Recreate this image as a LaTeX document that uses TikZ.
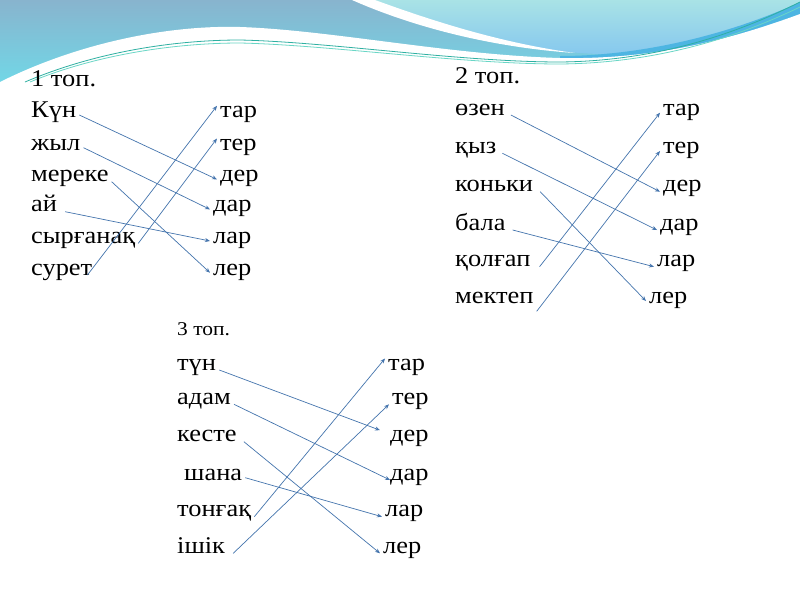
\documentclass[tikz,border=0pt]{standalone}
\usepackage{fontspec}
\setmainfont[FakeStretch=1.1]{Liberation Serif}
\usetikzlibrary{arrows.meta}
\definecolor{linkblue}{HTML}{4474AD}
\definecolor{skytop}{HTML}{88B4CE}
\definecolor{skylow}{HTML}{6EDCEA}
\definecolor{lenstop}{HTML}{A9E3E6}
\definecolor{lenslow}{HTML}{86C8EE}
\definecolor{bandblue}{HTML}{4DB5E2}
\definecolor{tealA}{HTML}{2FB0A2}
\definecolor{tealB}{HTML}{6AD6C6}

\begin{document}
\begin{tikzpicture}[
  x=1pt, y=-1pt,
  word/.style={anchor=base west, inner xsep=3pt, inner ysep=0pt, font=\fontsize{24}{28}\selectfont},
  small/.style={word, font=\fontsize{19.5}{23}\selectfont},
  link/.style={draw=linkblue, line width=0.7pt, -{Stealth[length=5pt, width=4pt]}}
]
\useasboundingbox (0,0) rectangle (800,600);

% header waves
\shade[top color=skytop, bottom color=skylow] (0,0) rectangle (800,95);
\shade[top color=lenstop, bottom color=lenslow] (360,0) .. controls (430,25) and (520,52) .. (600,54) .. controls (680,52) and (750,25) .. (800,4) -- (800,0) -- cycle;
\fill[white] (352,0) .. controls (420,30) and (500,48) .. (575,53) .. controls (500,43) and (430,20) .. (375,0) -- cycle;
\fill[bandblue] (560,56) .. controls (650,56) and (740,30) .. (800,2) -- (800,20) .. controls (740,46) and (660,62) .. (560,59) -- cycle;
\fill[white] (0,82) .. controls (80,42) and (170,25) .. (240,27) .. controls (330,30) and (450,55) .. (560,58) .. controls (660,60) and (740,36) .. (800,14) -- (800,600) -- (0,600) -- cycle;
\draw[tealA, line width=0.8pt] (25,82) .. controls (100,50) and (180,40) .. (240,40) .. controls (330,42) and (460,62) .. (560,62) .. controls (660,61) and (740,32) .. (800,2);
\draw[tealB, line width=0.8pt] (30,82) .. controls (100,53) and (180,43) .. (240,43) .. controls (330,45) and (460,64) .. (560,64) .. controls (660,63) and (740,36) .. (800,7);

% 1 топ
\node[word] (headA) at (28,86.7) {1 топ.};
\node[word] (kun) at (28,117.3) {Күн};
\node[word] (zhyl) at (28,150) {жыл};
\node[word] (mereke) at (28,181.7) {мереке};
\node[word] (ai) at (28,211.7) {ай};
\node[word] (syrganaq) at (28,243.3) {сырғанақ};
\node[word] (suret) at (28,275) {сурет};
\node[word] (tarA) at (217,117.3) {тар};
\node[word] (terA) at (217,150) {тер};
\node[word] (derA) at (217,181.7) {дер};
\node[word] (darA) at (210,211.7) {дар};
\node[word] (larA) at (210,243.3) {лар};
\node[word] (lerA) at (210,275) {лер};

\draw[link] (kun.mid east) -- (derA.mid west);
\draw[link] (zhyl.mid east) -- (darA.mid west);
\draw[link] (mereke.base east) -- (lerA.mid west);
\draw[link] ([xshift=5pt]ai.base east) -- (larA.mid west);
\draw[link] (syrganaq.base east) -- (terA.north west);
\draw[link] ([xshift=-8pt]suret.base east) -- (tarA.north west);

% 2 топ
\node[word] (headB) at (452,83.3) {2 топ.};
\node[word] (ozen) at (452,115) {өзен};
\node[word] (qyz) at (452,153.3) {қыз};
\node[word] (konki) at (452,191.7) {коньки};
\node[word] (bala) at (452,230) {бала};
\node[word] (qolgap) at (452,266.7) {қолғап};
\node[word] (mektep) at (452,303.3) {мектеп};
\node[word] (tarB) at (660,115) {тар};
\node[word] (terB) at (660,153.3) {тер};
\node[word] (derB) at (660,191.7) {дер};
\node[word] (darB) at (657,230) {дар};
\node[word] (larB) at (654,266.7) {лар};
\node[word] (lerB) at (646,303.3) {лер};

\draw[link] ([xshift=3pt]ozen.base east) -- (derB.base west);
\draw[link] ([xshift=3pt]qyz.base east) -- (darB.base west);
\draw[link] ([xshift=4pt]konki.base east) -- (lerB.mid west);
\draw[link] ([xshift=4pt]bala.base east) -- (larB.base west);
\draw[link] ([xshift=6pt]qolgap.base east) -- (tarB.mid west);
\draw[link] ([yshift=-8pt]mektep.base east) -- (terB.mid west);

% 3 топ
\node[small] (headC) at (174,335.7) {3 топ.};
\node[word] (tun) at (174,370) {түн};
\node[word] (adam) at (174,404.3) {адам};
\node[word] (keste) at (174,441.7) {кесте};
\node[word] (shana) at (181,480) {шана};
\node[word] (tongaq) at (174,516.7) {тонғақ};
\node[word] (ishik) at (174,553.3) {ішік};
\node[word] (tarC) at (385,370) {тар};
\node[word] (terC) at (389,404.3) {тер};
\node[word] (derC) at (387,441.7) {дер};
\node[word] (darC) at (387,480) {дар};
\node[word] (larC) at (382,516.7) {лар};
\node[word] (lerC) at (380,553.3) {лер};

\draw[link] (tun.base east) -- ([xshift=-7pt]derC.north west);
\draw[link] (adam.base east) -- ([xshift=3pt]darC.base west);
\draw[link] ([xshift=4pt]keste.base east) -- (lerC.base west);
\draw[link] (shana.mid east) -- (larC.base west);
\draw[link] (tongaq.base east) -- (tarC.north west);
\draw[link] ([xshift=5pt]ishik.base east) -- (terC.base west);
\end{tikzpicture}
\end{document}
